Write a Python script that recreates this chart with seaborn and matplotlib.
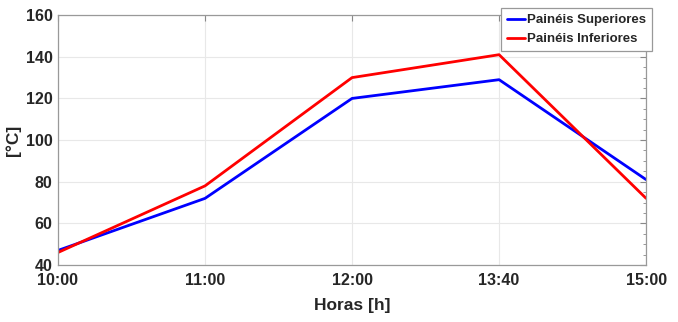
import numpy as np
import pandas as pd
import matplotlib
matplotlib.use("Agg")
import matplotlib.pyplot as plt
import seaborn as sns
from matplotlib.ticker import MultipleLocator

horas = ["10:00", "11:00", "12:00", "13:40", "15:00"]
superiores = [47, 72, 120, 129, 81]
inferiores = [46, 78, 130, 141, 72]

df = pd.DataFrame({
    "Horas": horas * 2,
    "Temp": superiores + inferiores,
    "Serie": ["Painéis Superiores"] * len(horas) + ["Painéis Inferiores"] * len(horas),
})

sns.set_style("white")
plt.rcParams["font.family"] = ["Liberation Sans", "DejaVu Sans"]
plt.rcParams["font.weight"] = "bold"

fig = plt.figure(figsize=(6.78, 3.22), dpi=100)
ax = fig.add_axes([0.0855, 0.177, 0.8675, 0.776])

sns.lineplot(data=df, x="Horas", y="Temp", hue="Serie",
             palette=["#0000ff", "#ff0000"], linewidth=2, ax=ax, sort=False)

ax.set_xlim(0, len(horas) - 1)
ax.set_ylim(40, 160)
ax.set_yticks(np.arange(40, 161, 20))
ax.yaxis.set_minor_locator(MultipleLocator(5))
ax.grid(True, which="major", color="#e8e8e8", linewidth=0.8)
ax.tick_params(axis="both", which="both", direction="in", top=True, right=True,
               color="#888888", labelsize=11.5, pad=4)
ax.tick_params(axis="x", pad=6)
ax.tick_params(which="major", length=4)
ax.tick_params(which="minor", length=2)
for s in ax.spines.values():
    s.set_color("#999999")
    s.set_linewidth(0.9)

ax.set_xlabel("Horas [h]", fontsize=12.5, fontweight="bold", labelpad=7)
ax.set_ylabel("[°C]", fontsize=12.5, fontweight="bold", labelpad=3)

leg = ax.legend(loc="upper right", bbox_to_anchor=(1.010, 1.028), borderaxespad=0,
                fontsize=9.5, handlelength=1.4, handletextpad=0.15, borderpad=0.45,
                labelspacing=0.5, frameon=True, fancybox=False, framealpha=1)
leg.get_frame().set_edgecolor("#999999")
leg.get_frame().set_linewidth(0.9)
for t in leg.get_texts():
    t.set_fontweight("bold")

fig.savefig("out.png", dpi=100)
